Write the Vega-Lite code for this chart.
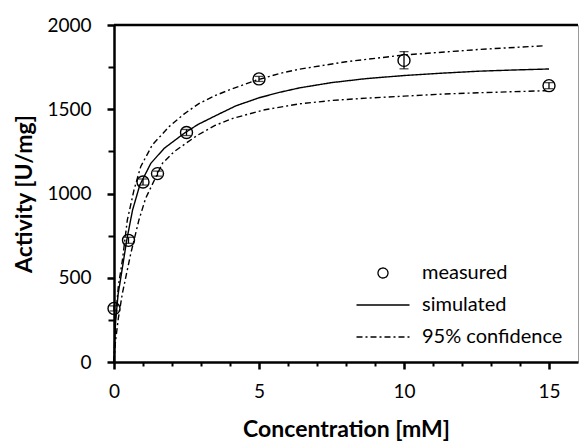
{
  "$schema": "https://vega.github.io/schema/vega-lite/v6.json",
  "width": 464,
  "height": 337,
  "autosize": {"type": "none"},
  "padding": {"left": 114, "top": 25, "right": 1, "bottom": 81},
  "background": "white",
  "config": {
    "font": "Lato",
    "view": {"stroke": "#9a9a9a", "strokeWidth": 1},
    "axis": {"domainColor": "black", "tickColor": "black", "labelColor": "black", "titleColor": "black", "grid": false, "labelFont": "Lato", "titleFont": "Lato", "labelOverlap": false}
  },
  "datasets": {
    "measured": [
      {"conc": 0, "activity": 318, "lo": 303, "hi": 333, "series": "measured"},
      {"conc": 0.5, "activity": 722, "lo": 704, "hi": 740, "series": "measured"},
      {"conc": 1, "activity": 1068, "lo": 1050, "hi": 1086, "series": "measured"},
      {"conc": 1.5, "activity": 1118, "lo": 1103, "hi": 1133, "series": "measured"},
      {"conc": 2.5, "activity": 1362, "lo": 1344, "hi": 1380, "series": "measured"},
      {"conc": 5, "activity": 1680, "lo": 1665, "hi": 1695, "series": "measured"},
      {"conc": 10, "activity": 1790, "lo": 1740, "hi": 1842, "series": "measured"},
      {"conc": 15, "activity": 1640, "lo": 1622, "hi": 1658, "series": "measured"}
    ],
    "curves": [
      {"curve": "sim", "series": "simulated", "conc": 0, "activity": 0},
      {"curve": "sim", "series": "simulated", "conc": 0.02, "activity": 120},
      {"curve": "sim", "series": "simulated", "conc": 0.06, "activity": 250},
      {"curve": "sim", "series": "simulated", "conc": 0.14, "activity": 400},
      {"curve": "sim", "series": "simulated", "conc": 0.24, "activity": 506},
      {"curve": "sim", "series": "simulated", "conc": 0.44, "activity": 724},
      {"curve": "sim", "series": "simulated", "conc": 0.64, "activity": 902},
      {"curve": "sim", "series": "simulated", "conc": 0.89, "activity": 1050},
      {"curve": "sim", "series": "simulated", "conc": 1.27, "activity": 1179},
      {"curve": "sim", "series": "simulated", "conc": 1.73, "activity": 1268},
      {"curve": "sim", "series": "simulated", "conc": 2.45, "activity": 1361},
      {"curve": "sim", "series": "simulated", "conc": 2.9, "activity": 1410},
      {"curve": "sim", "series": "simulated", "conc": 3.6, "activity": 1470},
      {"curve": "sim", "series": "simulated", "conc": 4.2, "activity": 1520},
      {"curve": "sim", "series": "simulated", "conc": 5, "activity": 1568},
      {"curve": "sim", "series": "simulated", "conc": 5.7, "activity": 1600},
      {"curve": "sim", "series": "simulated", "conc": 6.4, "activity": 1627},
      {"curve": "sim", "series": "simulated", "conc": 7.5, "activity": 1658},
      {"curve": "sim", "series": "simulated", "conc": 8.7, "activity": 1682},
      {"curve": "sim", "series": "simulated", "conc": 10, "activity": 1700},
      {"curve": "sim", "series": "simulated", "conc": 11.3, "activity": 1714},
      {"curve": "sim", "series": "simulated", "conc": 12.6, "activity": 1726},
      {"curve": "sim", "series": "simulated", "conc": 13.8, "activity": 1733},
      {"curve": "sim", "series": "simulated", "conc": 15, "activity": 1739},
      {"curve": "upper", "series": "95% confidence", "conc": 0, "activity": 0},
      {"curve": "upper", "series": "95% confidence", "conc": 0.05, "activity": 250},
      {"curve": "upper", "series": "95% confidence", "conc": 0.15, "activity": 450},
      {"curve": "upper", "series": "95% confidence", "conc": 0.29, "activity": 605},
      {"curve": "upper", "series": "95% confidence", "conc": 0.46, "activity": 843},
      {"curve": "upper", "series": "95% confidence", "conc": 0.69, "activity": 1021},
      {"curve": "upper", "series": "95% confidence", "conc": 0.92, "activity": 1159},
      {"curve": "upper", "series": "95% confidence", "conc": 1.32, "activity": 1288},
      {"curve": "upper", "series": "95% confidence", "conc": 1.9, "activity": 1397},
      {"curve": "upper", "series": "95% confidence", "conc": 2.4, "activity": 1470},
      {"curve": "upper", "series": "95% confidence", "conc": 2.94, "activity": 1535},
      {"curve": "upper", "series": "95% confidence", "conc": 3.5, "activity": 1582},
      {"curve": "upper", "series": "95% confidence", "conc": 4.08, "activity": 1622},
      {"curve": "upper", "series": "95% confidence", "conc": 4.9, "activity": 1672},
      {"curve": "upper", "series": "95% confidence", "conc": 5.7, "activity": 1712},
      {"curve": "upper", "series": "95% confidence", "conc": 6.4, "activity": 1738},
      {"curve": "upper", "series": "95% confidence", "conc": 8, "activity": 1782},
      {"curve": "upper", "series": "95% confidence", "conc": 10, "activity": 1822},
      {"curve": "upper", "series": "95% confidence", "conc": 12.6, "activity": 1855},
      {"curve": "upper", "series": "95% confidence", "conc": 14.85, "activity": 1877},
      {"curve": "lower", "series": "95% confidence", "conc": 0, "activity": 0},
      {"curve": "lower", "series": "95% confidence", "conc": 0.05, "activity": 120},
      {"curve": "lower", "series": "95% confidence", "conc": 0.15, "activity": 260},
      {"curve": "lower", "series": "95% confidence", "conc": 0.29, "activity": 408},
      {"curve": "lower", "series": "95% confidence", "conc": 0.58, "activity": 645},
      {"curve": "lower", "series": "95% confidence", "conc": 0.86, "activity": 843},
      {"curve": "lower", "series": "95% confidence", "conc": 1.09, "activity": 971},
      {"curve": "lower", "series": "95% confidence", "conc": 1.67, "activity": 1179},
      {"curve": "lower", "series": "95% confidence", "conc": 2.07, "activity": 1248},
      {"curve": "lower", "series": "95% confidence", "conc": 2.87, "activity": 1345},
      {"curve": "lower", "series": "95% confidence", "conc": 3.5, "activity": 1405},
      {"curve": "lower", "series": "95% confidence", "conc": 4.1, "activity": 1446},
      {"curve": "lower", "series": "95% confidence", "conc": 5.2, "activity": 1497},
      {"curve": "lower", "series": "95% confidence", "conc": 6.4, "activity": 1532},
      {"curve": "lower", "series": "95% confidence", "conc": 7.5, "activity": 1552},
      {"curve": "lower", "series": "95% confidence", "conc": 8.7, "activity": 1566},
      {"curve": "lower", "series": "95% confidence", "conc": 10, "activity": 1578},
      {"curve": "lower", "series": "95% confidence", "conc": 11.3, "activity": 1590},
      {"curve": "lower", "series": "95% confidence", "conc": 12.6, "activity": 1598},
      {"curve": "lower", "series": "95% confidence", "conc": 14.9, "activity": 1610}
    ],
    "frame": [{"conc": 0, "activity": 2000}, {"conc": 16, "activity": 2000}]
  },
  "encoding": {
    "x": {"field": "conc", "type": "quantitative", "title": "Concentration [mM]", "scale": {"domain": [0, 16], "nice": false, "zero": false},
      "axis": {"orient": "bottom", "values": [0, 1, 2, 3, 4, 5, 6, 7, 8, 9, 10, 11, 12, 13, 14, 15],
        "labelExpr": "datum.value % 5 === 0 ? datum.label : ''", "labelOverlap": false,
        "tickSize": {"condition": {"test": "datum.value % 5 === 0", "value": 7}, "value": 4},
        "tickWidth": {"condition": {"test": "datum.value % 5 === 0", "value": 2.5}, "value": 2},
        "domainWidth": 2.5, "labelFontSize": 19, "labelPadding": 13, "labelFlush": false, "titleFontSize": 23, "titleFontWeight": "bold", "titlePadding": 17}},
    "y": {"field": "activity", "type": "quantitative", "title": "Activity [U/mg]", "scale": {"domain": [0, 2000], "nice": false},
      "axis": {"orient": "left", "values": [0, 250, 500, 750, 1000, 1250, 1500, 1750, 2000], "format": "d",
        "labelExpr": "datum.value % 500 === 0 ? datum.label : ''", "labelOverlap": false,
        "tickSize": {"condition": {"test": "datum.value % 500 === 0", "value": 7}, "value": 6},
        "tickWidth": {"condition": {"test": "datum.value % 500 === 0", "value": 2.5}, "value": 2},
        "domainWidth": 2.5, "labelFontSize": 19, "labelPadding": 16, "labelFlush": false, "titleFontSize": 23, "titleFontWeight": "bold", "titlePadding": 10}}
  },
  "layer": [
    {
      "data": {"name": "curves"},
      "mark": {"type": "line", "color": "black", "strokeWidth": 1.4},
      "encoding": {
        "detail": {"field": "curve", "type": "nominal"},
        "strokeDash": {"field": "series", "type": "nominal",
          "scale": {"domain": ["measured", "simulated", "95% confidence"], "range": [[1, 0], [1, 0], [6, 3, 2, 3]]},
          "legend": {"title": null, "orient": "bottom-right", "offset": 15, "padding": 0, "labelFontSize": 20, "labelFont": "Lato", "labelColor": "black", "labelOffset": 29, "rowPadding": 12, "symbolSize": 100, "symbolStrokeWidth": 1.3, "symbolStrokeColor": "black", "symbolFillColor": "transparent"}}
      }
    },
    {
      "data": {"name": "frame"},
      "mark": {"type": "line", "color": "black", "strokeWidth": 2.5, "clip": false},
      "encoding": {}
    },
    {
      "data": {"name": "measured"},
      "mark": {"type": "errorbar", "color": "black", "thickness": 1.3, "ticks": {"size": 9, "thickness": 1.3, "color": "black"}},
      "encoding": {
        "y": {"field": "lo", "type": "quantitative", "title": "Activity [U/mg]",
          "axis": {"orient": "left", "values": [0, 250, 500, 750, 1000, 1250, 1500, 1750, 2000], "format": "d",
            "labelExpr": "datum.value % 500 === 0 ? datum.label : ''", "labelOverlap": false,
            "tickSize": {"condition": {"test": "datum.value % 500 === 0", "value": 7}, "value": 6},
            "tickWidth": {"condition": {"test": "datum.value % 500 === 0", "value": 2.5}, "value": 2},
            "domainWidth": 2.5, "labelFontSize": 19, "labelPadding": 16, "labelFlush": false, "titleFontSize": 23, "titleFontWeight": "bold", "titlePadding": 10}},
        "y2": {"field": "hi"}
      }
    },
    {
      "data": {"name": "measured"},
      "mark": {"type": "point", "filled": false, "color": "black", "size": 144, "strokeWidth": 1.4, "opacity": 1},
      "encoding": {
        "shape": {"field": "series", "type": "nominal",
          "scale": {"domain": ["measured", "simulated", "95% confidence"], "range": ["circle", "M-5.3,0L5.3,0", "M-5.3,0L5.3,0"]},
          "legend": {"title": null, "orient": "bottom-right", "offset": 15, "padding": 0, "labelFontSize": 20, "labelFont": "Lato", "labelColor": "black", "labelOffset": 29, "rowPadding": 12, "symbolSize": 100, "symbolStrokeWidth": 1.3, "symbolStrokeColor": "black", "symbolFillColor": "transparent"}}
      }
    }
  ]
}
